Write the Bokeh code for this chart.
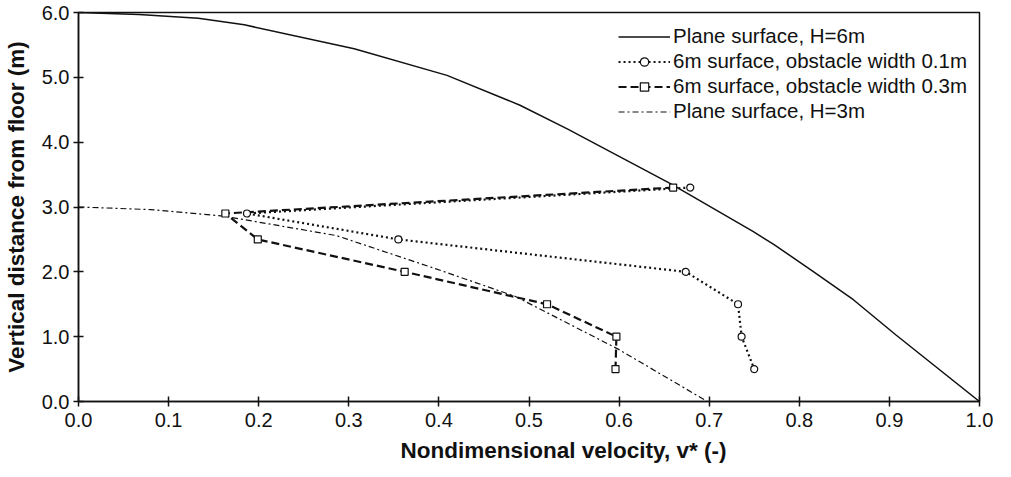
from bokeh.plotting import figure
from bokeh.models import Range1d, FixedTicker, Legend, LegendItem, Title
from bokeh.embed import file_html
from bokeh.resources import INLINE

# ---- data ----
h6_v = [0.0, 0.067, 0.133, 0.184, 0.306, 0.409, 0.490, 0.543, 0.657, 0.749, 0.772, 0.816, 0.860, 0.907, 1.0]
h6_h = [6.0, 5.97, 5.91, 5.81, 5.44, 5.03, 4.57, 4.20, 3.36, 2.62, 2.42, 2.00, 1.57, 1.03, 0.0]

obs_h = [3.3, 2.9, 2.5, 2.0, 1.5, 1.0, 0.5]
obs01_v = [0.679, 0.187, 0.355, 0.674, 0.732, 0.736, 0.750]
obs03_v = [0.660, 0.163, 0.199, 0.362, 0.520, 0.597, 0.596]

h3_v = [0.0, 0.08, 0.161, 0.286, 0.396, 0.485, 0.600, 0.698]
h3_h = [3.0, 2.96, 2.86, 2.56, 2.05, 1.62, 0.80, 0.0]

x_ticks = [0.0, 0.1, 0.2, 0.3, 0.4, 0.5, 0.6, 0.7, 0.8, 0.9, 1.0]
x_labels = ["0.0", "0.1", "0.2", "0.3", "0.4", "0.5", "0.6", "0.7", "0.8", "0.9", "1.0"]
y_ticks = [0.0, 1.0, 2.0, 3.0, 4.0, 5.0, 6.0]
y_labels = ["0.0", "1.0", "2.0", "3.0", "4.0", "5.0", "6.0"]

series_labels = [
    "Plane surface, H=6m",
    "6m surface, obstacle width 0.1m",
    "6m surface, obstacle width 0.3m",
    "Plane surface, H=3m",
]
x_title = "Nondimensional  velocity, v* (-)"
y_title = "Vertical distance from floor (m)"

FONT = "Liberation Sans"
INK = "#111111"

p = figure(width=995, height=469, output_backend="svg", toolbar_location=None,
           x_range=Range1d(0, 1), y_range=Range1d(0, 6),
           min_border_left=73, min_border_right=16, min_border_top=12, min_border_bottom=67)

p.xgrid.visible = False
p.ygrid.visible = False
p.outline_line_color = INK
p.outline_line_width = 1.5
p.background_fill_color = "white"
p.border_fill_color = "white"

for ax, ticks, labels in ((p.xaxis[0], x_ticks, x_labels), (p.yaxis[0], y_ticks, y_labels)):
    ax.ticker = FixedTicker(ticks=ticks)
    ax.major_label_overrides = {t: l for t, l in zip(ticks, labels)}
    ax.minor_tick_line_color = None
    ax.major_tick_in = 5
    ax.major_tick_out = 5
    ax.major_tick_line_color = INK
    ax.major_tick_line_width = 1.5
    ax.axis_line_color = INK
    ax.axis_line_width = 1.5
    ax.major_label_text_font = FONT
    ax.major_label_text_font_size = "20px"
    ax.major_label_text_color = INK
    ax.axis_label_text_font = FONT
    ax.axis_label_text_font_size = "22.5px"
    ax.axis_label_text_font_style = "bold"
    ax.axis_label_text_color = INK

p.xaxis[0].major_label_standoff = 6
p.yaxis[0].axis_label = y_title
p.yaxis[0].major_label_standoff = 4
p.yaxis[0].axis_label_standoff = 10

xt = Title(text=x_title, align="left", offset=322, standoff=13,
           text_font=FONT, text_font_size="22.5px", text_font_style="bold", text_color=INK)
p.add_layout(xt, "below")

r6 = p.line(h6_v, h6_h, line_color=INK, line_width=1.5)
r3 = p.line(h3_v, h3_h, line_color=INK, line_width=1.2, line_dash="6 3 2 3")
l01 = p.line(obs01_v, obs_h, line_color=INK, line_width=2.2, line_dash="2 3")
l03 = p.line(obs03_v, obs_h, line_color=INK, line_width=2.2, line_dash="8 4")
m01 = p.scatter(obs01_v, obs_h, marker="circle", size=7, line_color=INK, line_width=1.2, fill_color="white")
m03 = p.scatter(obs03_v, obs_h, marker="square", size=7, line_color=INK, line_width=1.2, fill_color="white")

legend = Legend(items=[
    LegendItem(label=series_labels[0], renderers=[r6]),
    LegendItem(label=series_labels[1], renderers=[l01, m01]),
    LegendItem(label=series_labels[2], renderers=[l03, m03]),
    LegendItem(label=series_labels[3], renderers=[r3]),
], location="top_right")
legend.label_text_font = FONT
legend.label_text_font_size = "20.5px"
legend.label_text_color = INK
legend.glyph_width = 52
legend.glyph_height = 21
legend.label_height = 21
legend.spacing = 1
legend.label_standoff = 3
legend.padding = 10
legend.margin = 2
legend.border_line_alpha = 0
legend.background_fill_alpha = 0
p.add_layout(legend)

open("out.html", "w").write(file_html(p, INLINE))
